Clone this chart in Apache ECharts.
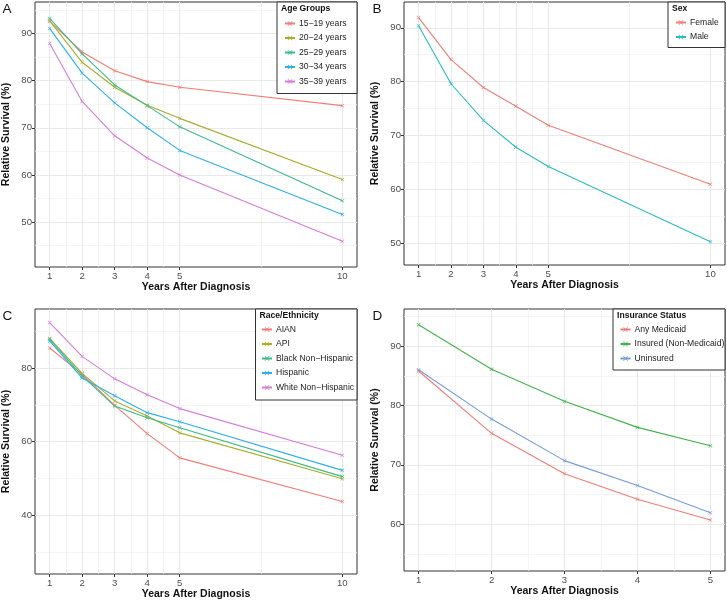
<!DOCTYPE html>
<html>
<head>
<meta charset="utf-8">
<script src="https://cdn.jsdelivr.net/npm/echarts@6/dist/echarts.min.js"></script>
<style>
html,body{margin:0;padding:0;background:#fff;}
#c{width:727px;height:602px;}
</style>
</head>
<body>
<div id="c"></div>
<script>
// ---------- data ----------
const years10 = [1, 2, 3, 4, 5, 10];
const years5 = [1, 2, 3, 4, 5];

// Panel A: Age groups
const ageNames = ['15−19 years', '20−24 years', '25−29 years', '30−34 years', '35−39 years'];
const age15_19 = [92.6, 86.1, 82.1, 79.8, 78.6, 74.7];
const age20_24 = [92.7, 83.9, 78.6, 74.8, 72.0, 59.0];
const age25_29 = [93.2, 85.7, 79.1, 74.7, 70.2, 54.5];
const age30_34 = [91.1, 81.6, 75.3, 70.0, 65.2, 51.6];
const age35_39 = [87.9, 75.6, 68.3, 63.6, 60.0, 45.9];

// Panel B: Sex
const sexNames = ['Female', 'Male'];
const sexFemale = [91.9, 84.1, 78.9, 75.4, 71.9, 60.9];
const sexMale = [90.4, 79.6, 72.8, 67.8, 64.2, 50.2];

// Panel C: Race/Ethnicity
const raceNames = ['AIAN', 'API', 'Black Non−Hispanic', 'Hispanic', 'White Non−Hispanic'];
const raceAIAN = [85.5, 78.4, 69.9, 62.2, 55.6, 43.7];
const raceAPI = [88.1, 78.6, 71.1, 67.0, 62.4, 49.9];
const raceBlack = [87.9, 77.9, 69.7, 66.5, 63.8, 50.5];
const raceHispanic = [87.4, 77.3, 72.5, 67.9, 65.4, 52.2];
const raceWhite = [92.4, 83.2, 77.1, 72.8, 69.0, 56.3];

// Panel D: Insurance status
const insNames = ['Any Medicaid', 'Insured (Non-Medicaid)', 'Uninsured'];
const insMedicaid = [85.8, 75.3, 68.5, 64.2, 60.7];
const insInsured = [93.6, 86.1, 80.7, 76.3, 73.2];
const insUninsured = [86.0, 77.7, 70.7, 66.5, 61.9];

// tick labels
const xTicks10 = [1, 2, 3, 4, 5, 10];
const xTicks5 = [1, 2, 3, 4, 5];
const yTicksA = [50, 60, 70, 80, 90];
const yTicksB = [50, 60, 70, 80, 90];
const yTicksC = [40, 60, 80];
const yTicksD = [60, 70, 80, 90];
const xMinor10 = [1.5, 2.5, 3.5, 4.5, 7.5];
const xMinor5 = [1.5, 2.5, 3.5, 4.5];
const yMinorA = [45, 55, 65, 75, 85, 95];
const yMinorB = [55, 65, 75, 85];
const yMinorC = [30, 50, 70, 90];
const yMinorD = [55, 65, 75, 85, 95];

// ---------- styling ----------
const FONT = '"Liberation Sans", Arial, Helvetica, sans-serif';
const colA = ['#ee7e77', '#a9ad30', '#3dba84', '#30aeea', '#d47ed6'];
const colB = ['#ee7e77', '#2bbcc0'];
const colC = ['#ee7e77', '#a9ad30', '#3dba84', '#30aeea', '#d47ed6'];
const colD = ['#ee7e77', '#44b34c', '#739bdc'];

const CROSS = 'path://M0,1L1,0L5,4L9,0L10,1L6,5L10,9L9,10L5,6L1,10L0,9L4,5Z';

const grids = [
  {left: 34, top: 2, width: 323, height: 265},
  {left: 404, top: 2, width: 321, height: 263},
  {left: 34, top: 309, width: 323, height: 265},
  {left: 404, top: 309, width: 321, height: 262}
];

function xAxis(idx, min, max, ticks) {
  return {
    gridIndex: idx, type: 'value', min: min, max: max,
    name: 'Years After Diagnosis', nameLocation: 'middle', nameGap: 14,
    nameTextStyle: {fontFamily: FONT, fontWeight: 'bold', fontSize: 10.5, color: '#111'},
    axisLine: {show: false},
    axisTick: {show: true, length: 3, customValues: ticks, lineStyle: {color: '#333', width: 1}},
    axisLabel: {show: true, customValues: ticks, margin: 4, fontFamily: FONT, fontSize: 9.6, color: '#4d4d4d'},
    splitLine: {show: false}
  };
}
function yAxis(idx, min, max, ticks) {
  return {
    gridIndex: idx, type: 'value', min: min, max: max,
    name: 'Relative Survival (%)', nameLocation: 'middle', nameGap: 23,
    nameTextStyle: {fontFamily: FONT, fontWeight: 'bold', fontSize: 10.5, color: '#111'},
    axisLine: {show: false},
    axisTick: {show: true, length: 3, customValues: ticks, lineStyle: {color: '#333', width: 1}},
    axisLabel: {show: true, customValues: ticks, margin: 3, fontFamily: FONT, fontSize: 9.6, color: '#4d4d4d'},
    splitLine: {show: false}
  };
}

function gridSeries(idx, xMaj, xMin, yMaj, yMin) {
  const data = [];
  const minor = {color: '#f1f1f1', width: 0.7, type: 'solid'};
  const major = {color: '#e6e6e6', width: 0.9, type: 'solid'};
  xMin.forEach(v => data.push({xAxis: v, lineStyle: minor}));
  yMin.forEach(v => data.push({yAxis: v, lineStyle: minor}));
  xMaj.forEach(v => data.push({xAxis: v, lineStyle: major}));
  yMaj.forEach(v => data.push({yAxis: v, lineStyle: major}));
  return {
    type: 'line', xAxisIndex: idx, yAxisIndex: idx, data: [], z: 0, silent: true,
    markLine: {silent: true, z: 0, zlevel: 0, symbol: 'none', label: {show: false}, animation: false,
      lineStyle: {type: 'solid'}, emphasis: {disabled: true}, data: data}
  };
}

function lineSeries(idx, name, xs, ys, color) {
  return {
    type: 'line', name: name, xAxisIndex: idx, yAxisIndex: idx, z: 6,
    data: xs.map((x, i) => [x, ys[i]]),
    symbol: CROSS, symbolSize: 4, showSymbol: true,
    lineStyle: {color: color, width: 1.1},
    itemStyle: {color: color},
    animation: false
  };
}

const series = [
  gridSeries(0, xTicks10, xMinor10, yTicksA, yMinorA),
  gridSeries(1, xTicks10, xMinor10, yTicksB, yMinorB),
  gridSeries(2, xTicks10, xMinor10, yTicksC, yMinorC),
  gridSeries(3, xTicks5, xMinor5, yTicksD, yMinorD)
];
[age15_19, age20_24, age25_29, age30_34, age35_39].forEach((d, i) => series.push(lineSeries(0, ageNames[i], years10, d, colA[i])));
[sexFemale, sexMale].forEach((d, i) => series.push(lineSeries(1, sexNames[i], years10, d, colB[i])));
[raceAIAN, raceAPI, raceBlack, raceHispanic, raceWhite].forEach((d, i) => series.push(lineSeries(2, raceNames[i], years10, d, colC[i])));
[insMedicaid, insInsured, insUninsured].forEach((d, i) => series.push(lineSeries(3, insNames[i], years5, d, colD[i])));

function legend(names, left, top) {
  return {
    data: names, orient: 'vertical', left: left, top: top,
    itemWidth: 10, itemHeight: 6, itemGap: 5.5, z: 21,
    selectedMode: false, padding: 0,
    textStyle: {fontFamily: FONT, fontSize: 8.6, color: '#222', padding: [0, 0, 0, -1]}
  };
}

function legendBox(x1, y1, x2, y2, title) {
  return [
    {type: 'rect', z: 20, shape: {x: x1, y: y1, width: x2 - x1, height: y2 - y1},
     style: {fill: '#fff', stroke: '#333', lineWidth: 1}},
    {type: 'text', z: 21, x: x1 + 4, y: y1 + 6.5,
     style: {text: title, fontFamily: FONT, fontWeight: 'bold', fontSize: 8.6, fill: '#111', verticalAlign: 'middle'}}
  ];
}
function letter(t, x, y) {
  return {type: 'text', z: 22, x: x, y: y,
    style: {text: t, fontFamily: FONT, fontSize: 13.5, fill: '#111', verticalAlign: 'middle'}};
}

const graphics = [].concat(
  legendBox(277, 2, 357, 93.5, 'Age Groups'),
  legendBox(668, 2, 725, 47.5, 'Sex'),
  legendBox(255.5, 309, 357, 400, 'Race/Ethnicity'),
  legendBox(613, 309, 725, 370, 'Insurance Status'),
  [letter('A', 2.5, 9.5), letter('B', 372.5, 9.5), letter('C', 2.5, 316), letter('D', 372.5, 316)]
);

const chart = echarts.init(document.getElementById('c'), null, {renderer: 'canvas'});
chart.setOption({
  animation: false,
  backgroundColor: '#fff',
  grid: grids.map(g => Object.assign({show: true, borderColor: '#333', borderWidth: 1, backgroundColor: 'transparent', containLabel: false}, g)),
  xAxis: [xAxis(0, 0.55, 10.45, xTicks10), xAxis(1, 0.55, 10.45, xTicks10), xAxis(2, 0.55, 10.45, xTicks10), xAxis(3, 0.8, 5.2, xTicks5)],
  yAxis: [yAxis(0, 40.45, 96.7, yTicksA), yAxis(1, 45.9, 94.8, yTicksB), yAxis(2, 24.0, 96.1, yTicksC), yAxis(3, 52.1, 96.25, yTicksD)],
  legend: [
    legend(ageNames, 284, 19),
    legend(sexNames, 675, 18),
    legend(raceNames, 261, 325),
    legend(insNames, 619.5, 325)
  ],
  graphic: graphics,
  series: series
});
</script>
</body>
</html>
